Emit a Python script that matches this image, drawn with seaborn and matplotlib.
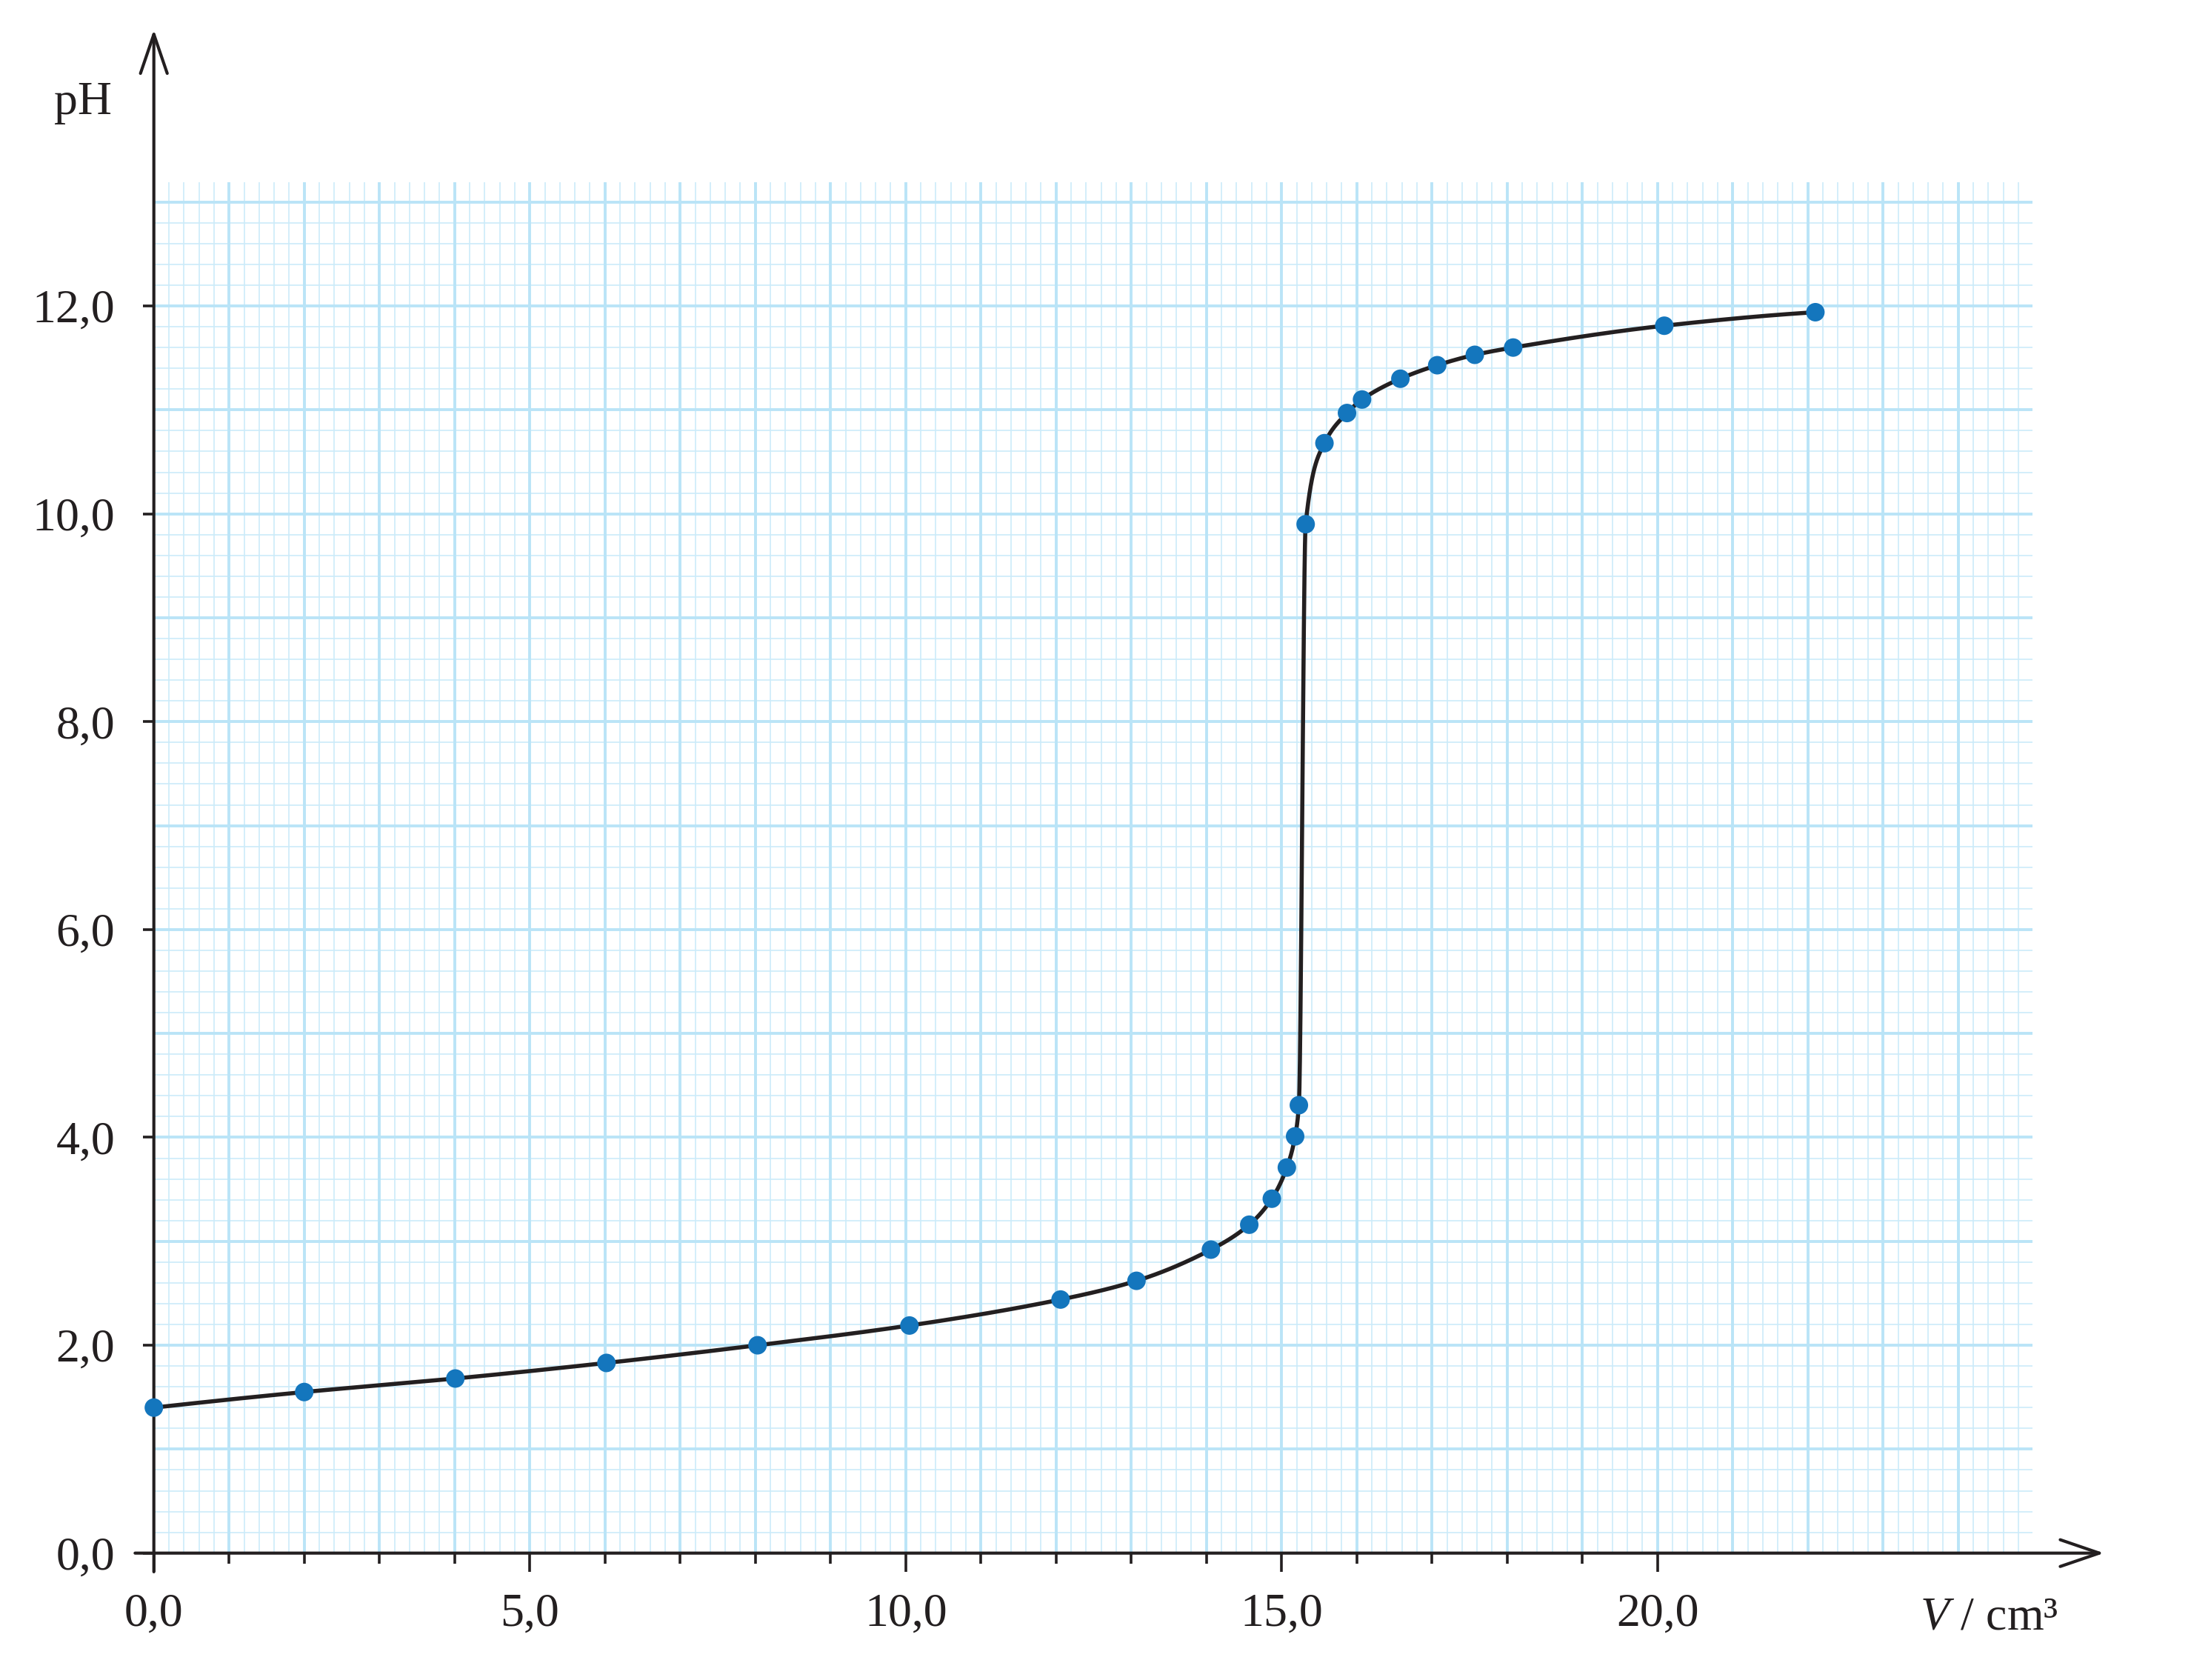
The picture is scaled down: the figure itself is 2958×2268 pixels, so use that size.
import numpy as np
import seaborn as sns
import matplotlib
matplotlib.use("Agg")
import matplotlib.pyplot as plt

# titration data
volume = [0.0, 2.0, 4.01, 6.02, 8.03, 10.05, 12.06, 13.07, 14.06, 14.57, 14.87, 15.07,
          15.18, 15.23, 15.32, 15.57, 15.87, 16.07, 16.58, 17.07, 17.57, 18.08, 20.09, 22.10]
ph = [1.40, 1.55, 1.68, 1.83, 2.00, 2.19, 2.44, 2.62, 2.92, 3.16, 3.41, 3.71,
      4.01, 4.31, 9.90, 10.68, 10.97, 11.10, 11.30, 11.43, 11.53, 11.60, 11.81, 11.94]

x_ticks = [0, 5, 10, 15, 20]
x_tick_labels = ["0,0", "5,0", "10,0", "15,0", "20,0"]
y_ticks = [0, 2, 4, 6, 8, 10, 12]
y_tick_labels = ["0,0", "2,0", "4,0", "6,0", "8,0", "10,0", "12,0"]

INK = "#231F20"
DOT = "#1476BD"
GRID_MAJOR = "#BAE4F7"
GRID_MINOR = "#CCEBF9"


def monotone_curve(x, y, n=60):
    # monotone cubic (pchip style) line through the measured points
    x = np.asarray(x, float)
    y = np.asarray(y, float)
    h = np.diff(x)
    delta = np.diff(y) / h
    d = np.zeros_like(y)
    for k in range(1, len(x) - 1):
        if delta[k - 1] * delta[k] > 0:
            w1 = 2 * h[k] + h[k - 1]
            w2 = h[k] + 2 * h[k - 1]
            d[k] = (w1 + w2) / (w1 / delta[k - 1] + w2 / delta[k])
    d[0] = ((2 * h[0] + h[1]) * delta[0] - h[0] * delta[1]) / (h[0] + h[1])
    d[-1] = ((2 * h[-1] + h[-2]) * delta[-1] - h[-1] * delta[-2]) / (h[-1] + h[-2])
    xs, ys = [], []
    for k in range(len(h)):
        t = np.linspace(0, 1, n, endpoint=(k == len(h) - 1))
        h00 = 2 * t**3 - 3 * t**2 + 1
        h10 = t**3 - 2 * t**2 + t
        h01 = -2 * t**3 + 3 * t**2
        h11 = t**3 - t**2
        ys.append(h00 * y[k] + h10 * h[k] * d[k] + h01 * y[k + 1] + h11 * h[k] * d[k + 1])
        xs.append(x[k] + t * h[k])
    return np.concatenate(xs), np.concatenate(ys)


sns.set_style("white")
plt.rcParams["font.family"] = ["Liberation Serif", "DejaVu Serif"]
plt.rcParams["mathtext.fontset"] = "custom"
plt.rcParams["mathtext.it"] = "Liberation Serif:italic"
plt.rcParams["mathtext.rm"] = "Liberation Serif"

fig = plt.figure(figsize=(14.79, 11.34), dpi=200, facecolor="white")
ax = fig.add_axes([0.07022, 0.07553, 0.85751, 0.81596])
ax.set_facecolor("white")

XMAX, YMAX = 24.99, 13.19
ax.set_xlim(0, XMAX)
ax.set_ylim(0, YMAX)

# millimetre paper grid
fine = np.round(np.arange(0.2, 25.0, 0.2), 1)
ax.vlines([v for v in fine if v % 1 != 0], 0, YMAX, color=GRID_MINOR, lw=0.6, zorder=0.5)
ax.vlines(np.arange(1, 25), 0, YMAX, color=GRID_MAJOR, lw=1.4, zorder=0.6)
fine_y = np.round(np.arange(0.2, 13.01, 0.2), 1)
ax.hlines([v for v in fine_y if v % 1 != 0], 0, XMAX, color=GRID_MINOR, lw=0.6, zorder=0.5)
ax.hlines(np.arange(1, 14), 0, XMAX, color=GRID_MAJOR, lw=1.4, zorder=0.6)

# axes with arrow heads
arrow = dict(arrowstyle="->,head_length=19,head_width=6.5", mutation_scale=1,
             lw=1.5, color=INK, shrinkA=0, shrinkB=0)
ax.annotate("", xy=(0, 14.66), xytext=(0, -0.18), arrowprops=arrow,
            annotation_clip=False, zorder=1.5)
ax.annotate("", xy=(25.94, 0), xytext=(-0.25, 0), arrowprops=arrow,
            annotation_clip=False, zorder=1.5)

# curve and measured points
cx, cy = monotone_curve(volume, ph)
sns.lineplot(x=cx, y=cy, sort=False, estimator=None, color=INK, lw=2.0,
             ax=ax, zorder=2, clip_on=False)
sns.scatterplot(x=volume, y=ph, s=81, color=DOT, edgecolor="none", linewidth=0,
                ax=ax, zorder=3, clip_on=False)

for side in ["left", "right", "top", "bottom"]:
    ax.spines[side].set_visible(False)

ax.set_xticks(x_ticks)
ax.set_xticklabels(x_tick_labels)
ax.set_xticks(np.arange(1, 20), minor=True)
ax.set_yticks(y_ticks)
ax.set_yticklabels(y_tick_labels)
ax.set_yticks([], minor=True)

ax.tick_params(axis="x", which="major", direction="out", length=9, width=1.3,
               color=INK, labelcolor=INK, labelsize=23, pad=10.5)
ax.tick_params(axis="x", which="minor", direction="out", length=5, width=1.3, color=INK)
ax.tick_params(axis="y", which="major", direction="out", length=5.4, width=1.3,
               color=INK, labelcolor=INK, labelsize=23, pad=13.5)
ax.tick_params(bottom=True, left=True, top=False, right=False)
ax.tick_params(axis="x", which="minor", bottom=True)

ax.set_xlabel(None)
ax.set_ylabel(None)
ax.text(-0.94, 13.85, "pH", ha="center", va="baseline", fontsize=23, color=INK,
        clip_on=False)
ax.text(23.49, -0.736, r"$\mathit{V}$ / cm³", ha="left", va="baseline", fontsize=23,
        color=INK, clip_on=False)

fig.savefig("out.png", dpi=200, facecolor="white")
